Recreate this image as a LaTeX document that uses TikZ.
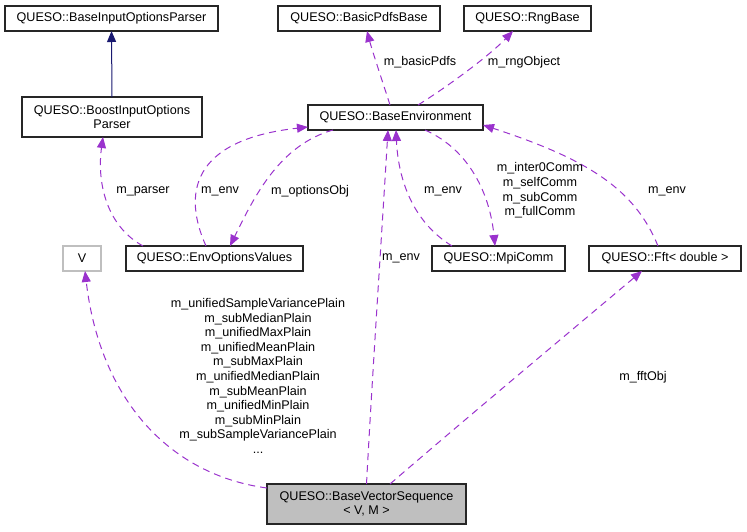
\documentclass[tikz,border=0pt]{standalone}
\usepackage{fontspec}
\setmainfont{Liberation Sans}
\usetikzlibrary{arrows.meta}
\definecolor{edgepurple}{HTML}{9A32CD}
\definecolor{inhblue}{HTML}{191970}
\definecolor{boxgray}{HTML}{BFBFBF}

\begin{document}
\begin{tikzpicture}[
x=1pt, y=-1pt,
font=\fontsize{12.6}{14.6}\selectfont,
    C/.style = {rectangle, draw=black!85, line width=1.2pt,% class boxes
                minimum height=25pt, inner sep=0pt, outer sep=0pt, align=center},
    T/.style = {C, draw=boxgray},% template parameter
    F/.style = {C, fill=boxgray, minimum height=40pt},% class of the page
    M/.style = {draw=edgepurple, line width=1pt, dash pattern=on 7pt off 5pt,% members
                -{Triangle[length=11pt,width=9pt]}},
    I/.style = {draw=inhblue, line width=1pt,% inheritance
                -{Triangle[length=11pt,width=9pt]}},
    L/.style = {align=center, inner sep=0pt},
                        ]
\useasboundingbox (0,0) rectangle (747,531);
% classes
\node[C, minimum width=213pt] (biop) at (111.5,18.5) {QUESO::BaseInputOptionsParser};
\node[C, minimum width=180pt, minimum height=40pt] (boost) at (112,117) {QUESO::BoostInputOptions\\Parser};
\node[C, minimum width=162pt] (pdfs) at (359,18.5) {QUESO::BasicPdfsBase};
\node[C, minimum width=127pt] (rng) at (527.5,18.5) {QUESO::RngBase};
\node[C, minimum width=175pt] (env) at (395.5,117.5) {QUESO::BaseEnvironment};
\node[T, minimum width=38pt] (v) at (82,258.5) {V};
\node[C, minimum width=177pt] (opts) at (214.5,258.5) {QUESO::EnvOptionsValues};
\node[C, minimum width=133pt] (mpi) at (498.5,258.5) {QUESO::MpiComm};
\node[C, minimum width=152pt] (fft) at (665,258.5) {QUESO::Fft< double >};
\node[F, minimum width=199pt] (seq) at (366.5,504) {QUESO::BaseVectorSequence\\< V, M >};
% edges
\draw[I] (boost.north) -- (biop.south);
\draw[M] ([xshift=-71.5pt]opts.north) .. controls (105,225) and (97,180) .. ([xshift=-9pt]boost.south);
\draw[M] ([xshift=-8.5pt]opts.north) .. controls (183,195) and (190,140) .. ([yshift=-9.5pt]env.west);
\draw[M] ([xshift=-62.5pt]env.south) .. controls (280,145) and (255,195) .. ([xshift=15.5pt]opts.north);
\draw[M] ([xshift=-5.5pt]env.north) .. controls (382,80) and (372,50) .. ([xshift=8pt]pdfs.south);
\draw[M] ([xshift=22.5pt]env.north) .. controls (450,85) and (490,55) .. ([xshift=-14.5pt]rng.south);
\draw[M] ([xshift=-46.5pt]mpi.north) .. controls (410,220) and (398,175) .. ([xshift=0.5pt]env.south);
\draw[M] ([xshift=29.5pt]env.south) .. controls (470,150) and (490,195) .. ([xshift=-3.5pt]mpi.north);
\draw[M] ([xshift=-7pt]fft.north) .. controls (635,190) and (590,160) .. ([yshift=-7.5pt]env.east);
\draw[M] ([yshift=16pt]seq.west) .. controls (170,475) and (100,400) .. ([xshift=3pt]v.south);
\draw[M] (seq.north) .. controls (372,380) and (382,230) .. ([xshift=-7.5pt]env.south);
\draw[M] ([xshift=23.5pt]seq.north) .. controls (470,415) and (560,340) .. ([xshift=-23pt]fft.south);
% labels
\node[L] (lparser) at (143,191) {m\_parser};
\node[L] (lenvopts) at (220,191) {m\_env};
\node[L] (loptobj) at (310,191) {m\_optionsObj};
\node[L] (lpdfs) at (420,62) {m\_basicPdfs};
\node[L] (lrng) at (524,62) {m\_rngObject};
\node[L] (lenvmpi) at (443,191) {m\_env};
\node[L] (lcomm) at (540,190.5) {m\_inter0Comm\\m\_selfComm\\m\_subComm\\m\_fullComm};
\node[L] (lenvfft) at (667,191) {m\_env};
\node[L] (lenvseq) at (401,258) {m\_env};
\node[L] (lfft) at (643,377) {m\_fftObj};
\node[L] (lstats) at (258,376) {m\_unifiedSampleVariancePlain\\m\_subMedianPlain\\m\_unifiedMaxPlain\\m\_unifiedMeanPlain\\m\_subMaxPlain\\m\_unifiedMedianPlain\\m\_subMeanPlain\\m\_unifiedMinPlain\\m\_subMinPlain\\m\_subSampleVariancePlain\\...};
\end{tikzpicture}
\end{document}
